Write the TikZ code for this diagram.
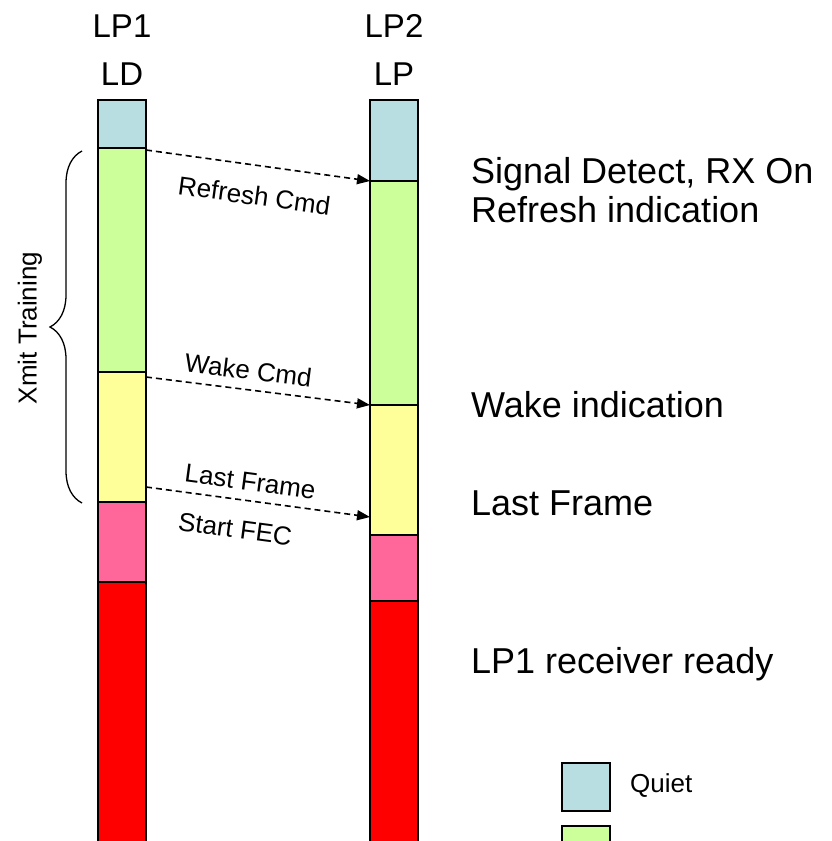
\documentclass[tikz,border=0pt]{standalone}
\usepackage{fontspec}
\setmainfont{Liberation Sans}
\usetikzlibrary{arrows.meta,decorations.pathreplacing,positioning}
\definecolor{quiet}{RGB}{184,222,226}
\definecolor{refresh}{RGB}{204,255,153}
\definecolor{wake}{RGB}{255,255,153}
\definecolor{fec}{RGB}{255,102,153}
\definecolor{ready}{RGB}{255,0,0}
\tikzset{
	seg/.style={draw=black, line width=2.4pt, minimum width=48pt, inner sep=0pt, outer sep=0pt},
	cmd/.style={dashed, dash pattern=on 6pt off 4pt, line width=1.6pt, -{Triangle[length=13pt,width=10pt]}},
	big/.style={font=\fontsize{36}{43}\selectfont, inner sep=0pt},
	head/.style={font=\fontsize{33}{40}\selectfont, inner sep=0pt, anchor=base},
	small/.style={font=\fontsize{26}{31}\selectfont, inner xsep=0pt},
}
\begin{document}
\begin{tikzpicture}[x=1pt,y=-1pt]
			\clip (0,0) rectangle (832,841);
			% LP1 / LD column
			\node[seg, fill=quiet, minimum height=48pt, anchor=north west] (ldq) at (98,100) {};
			\node[seg, fill=refresh, minimum height=224pt, below=0pt of ldq] (ldg) {};
			\node[seg, fill=wake, minimum height=130pt, below=0pt of ldg] (ldy) {};
			\node[seg, fill=fec, minimum height=80pt, below=0pt of ldy] (ldp) {};
			\node[seg, fill=ready, minimum height=300pt, below=0pt of ldp] (ldr) {};
			% LP2 / LP column
			\node[seg, fill=quiet, minimum height=81pt, anchor=north west] (lpq) at (370,100) {};
			\node[seg, fill=refresh, minimum height=224pt, below=0pt of lpq] (lpg) {};
			\node[seg, fill=wake, minimum height=130pt, below=0pt of lpg] (lpy) {};
			\node[seg, fill=fec, minimum height=66pt, below=0pt of lpy] (lpp) {};
			\node[seg, fill=ready, minimum height=300pt, below=0pt of lpp] (lpr) {};
			% headers
			\node[head] (ldhead) at (122,37) {LP1};
			\node[head] (ldname) at (122,85) {LD};
			\node[head] (lphead) at (394,37) {LP2};
			\node[head] (lpname) at (394,85) {LP};
			% commands
			\draw[cmd] ([yshift=-2pt]ldg.north east) -- (lpg.north west)
				node[small, pos=0.16, sloped, anchor=north west, inner ysep=20pt] (refcmd) {Refresh Cmd};
			\draw[cmd] ([yshift=-5pt]ldy.north east) -- (lpy.north west)
				node[small, pos=0.16, sloped, anchor=south west, inner ysep=9pt] (wakecmd) {Wake Cmd};
			\draw[cmd] ([yshift=15pt]ldp.north east) -- ([yshift=18pt]lpp.north west)
				node[small, pos=0.16, sloped, anchor=south west, inner ysep=9pt] (lastcmd) {Last Frame}
				node[small, pos=0.16, sloped, anchor=north west, inner ysep=20pt] (feccmd) {Start FEC};
			% events at LP
			\node[big, anchor=base west] (sigdet) at (471,183) {Signal Detect, RX On};
			\node[big, anchor=base west] (refind) at (471,222) {Refresh indication};
			\node[big, anchor=base west] (wakeind) at (471,417) {Wake indication};
			\node[big, anchor=base west] (lastfr) at (471,515) {Last Frame};
			\node[big, anchor=base west] (rxready) at (471,673) {LP1 receiver ready};
			% training brace
			\draw[decorate, decoration={brace, amplitude=32pt}, line width=1.3pt] (82,503) -- (82,151);
			\node[small, rotate=90, inner sep=0pt] (xmit) at (30,328) {Xmit Training};
			% key
			\node[seg, line width=2pt, fill=quiet, minimum height=48pt, anchor=north west] (keyq) at (562,763) {};
			\node[small, anchor=west, inner sep=0pt] (keyqtxt) at (630,786) {Quiet};
			\node[seg, line width=2pt, fill=refresh, minimum height=48pt, anchor=north west] (keyg) at (562,826) {};
\end{tikzpicture}
\end{document}
